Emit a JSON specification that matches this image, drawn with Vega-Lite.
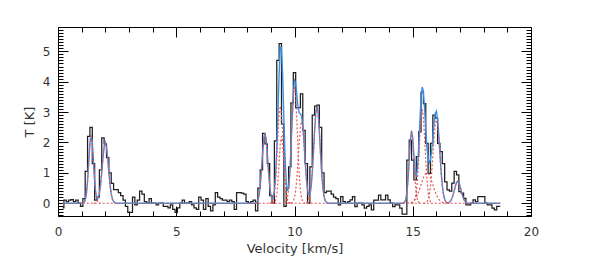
{
"$schema": "https://vega.github.io/schema/vega-lite/v6.json",
"width": 473, "height": 189,
"autosize": {"type": "none"},
"padding": {"left": 58, "top": 27, "right": 58, "bottom": 55},
"background": "white",
"config": {
  "view": {"stroke": null},
  "axis": {"grid": false, "domainColor": "#000", "domainWidth": 1, "tickColor": "#000", "tickWidth": 1,
    "labelFont": "DejaVu Sans", "labelFontSize": 12, "labelColor": "#333",
    "titleFont": "DejaVu Sans", "titleFontSize": 13, "titleFontWeight": "normal", "titleColor": "#333"}
},
"datasets": {
"hist": [
{"v":0.2,"t":-0.15},{"v":0.3,"t":0.1},{"v":0.4,"t":0.05},{"v":0.5,"t":0.1},{"v":0.6,"t":0.12},{"v":0.7,"t":0.05},{"v":0.8,"t":0.1},{"v":0.9,"t":0.0},{"v":1.0,"t":-0.1},{"v":1.1,"t":0.15},
{"v":1.2,"t":1.05},{"v":1.3,"t":2.2},{"v":1.4,"t":2.5},{"v":1.5,"t":1.3},{"v":1.6,"t":0.1},{"v":1.7,"t":0.2},{"v":1.8,"t":1.1},{"v":1.9,"t":2.15},{"v":2.0,"t":1.95},{"v":2.1,"t":1.5},
{"v":2.2,"t":1.0},{"v":2.3,"t":0.65},{"v":2.4,"t":0.45},{"v":2.5,"t":0.45},{"v":2.6,"t":0.35},{"v":2.7,"t":0.25},{"v":2.8,"t":0.1},{"v":2.9,"t":-0.1},{"v":3.0,"t":-0.3},{"v":3.1,"t":-0.3},
{"v":3.2,"t":0.2},{"v":3.3,"t":-0.05},{"v":3.4,"t":0.1},{"v":3.5,"t":0.4},{"v":3.6,"t":0.3},{"v":3.7,"t":0.05},{"v":3.8,"t":0.0},{"v":3.9,"t":0.15},{"v":4.0,"t":0.0},{"v":4.1,"t":0.0},
{"v":4.2,"t":-0.05},{"v":4.3,"t":0.0},{"v":4.4,"t":0.0},{"v":4.5,"t":-0.1},{"v":4.6,"t":-0.1},{"v":4.7,"t":-0.15},{"v":4.8,"t":-0.05},{"v":4.9,"t":-0.2},{"v":5.0,"t":-0.3},{"v":5.1,"t":-0.15},
{"v":5.2,"t":0.0},{"v":5.3,"t":0.1},{"v":5.4,"t":0.0},{"v":5.5,"t":0.0},{"v":5.6,"t":0.05},{"v":5.7,"t":-0.05},{"v":5.8,"t":-0.15},{"v":5.9,"t":-0.2},{"v":6.0,"t":0.2},{"v":6.1,"t":0.1},
{"v":6.2,"t":-0.2},{"v":6.3,"t":0.15},{"v":6.4,"t":-0.1},{"v":6.5,"t":-0.25},{"v":6.6,"t":-0.05},{"v":6.7,"t":0.35},{"v":6.8,"t":0.2},{"v":6.9,"t":0.15},{"v":7.0,"t":0.1},{"v":7.1,"t":0.1},
{"v":7.2,"t":0.05},{"v":7.3,"t":0.1},{"v":7.4,"t":0.05},{"v":7.5,"t":-0.2},{"v":7.6,"t":0.35},{"v":7.7,"t":0.35},{"v":7.8,"t":0.33},{"v":7.9,"t":0.3},{"v":8.0,"t":0.05},{"v":8.1,"t":0.0},
{"v":8.2,"t":0.05},{"v":8.3,"t":0.1},{"v":8.4,"t":-0.25},{"v":8.5,"t":0.5},{"v":8.6,"t":1.1},{"v":8.7,"t":2.3},{"v":8.8,"t":1.95},{"v":8.9,"t":1.3},{"v":9.0,"t":0.25},{"v":9.1,"t":0.0},
{"v":9.2,"t":2.05},{"v":9.3,"t":4.7},{"v":9.4,"t":5.25},{"v":9.5,"t":2.6},{"v":9.6,"t":-0.1},{"v":9.7,"t":0.5},{"v":9.8,"t":1.2},{"v":9.9,"t":3.3},{"v":10.0,"t":4.3},{"v":10.1,"t":3.15},
{"v":10.2,"t":3.15},{"v":10.3,"t":3.6},{"v":10.4,"t":2.4},{"v":10.5,"t":1.3},{"v":10.6,"t":0.0},{"v":10.7,"t":1.2},{"v":10.8,"t":2.9},{"v":10.9,"t":3.2},{"v":11.0,"t":3.23},{"v":11.1,"t":2.5},
{"v":11.2,"t":1.0},{"v":11.3,"t":0.35},{"v":11.4,"t":0.4},{"v":11.5,"t":0.4},{"v":11.6,"t":0.3},{"v":11.7,"t":0.2},{"v":11.8,"t":0.15},{"v":11.9,"t":-0.05},{"v":12.0,"t":0.22},{"v":12.1,"t":0.05},
{"v":12.2,"t":0.0},{"v":12.3,"t":0.05},{"v":12.4,"t":0.11},{"v":12.5,"t":0.22},{"v":12.6,"t":-0.11},{"v":12.7,"t":0.0},{"v":12.8,"t":0.0},{"v":12.9,"t":-0.05},{"v":13.0,"t":-0.16},{"v":13.1,"t":-0.1},
{"v":13.2,"t":-0.05},{"v":13.3,"t":-0.22},{"v":13.4,"t":0.1},{"v":13.5,"t":0.1},{"v":13.6,"t":0.27},{"v":13.7,"t":0.11},{"v":13.8,"t":0.11},{"v":13.9,"t":0.27},{"v":14.0,"t":0.11},{"v":14.1,"t":0.0},
{"v":14.2,"t":-0.11},{"v":14.3,"t":-0.05},{"v":14.4,"t":-0.05},{"v":14.5,"t":-0.16},{"v":14.6,"t":-0.36},{"v":14.7,"t":-0.36},{"v":14.8,"t":1.42},{"v":14.9,"t":2.08},{"v":15.0,"t":1.42},{"v":15.1,"t":0.77},
{"v":15.2,"t":1.53},{"v":15.3,"t":2.35},{"v":15.4,"t":3.66},{"v":15.5,"t":3.28},{"v":15.6,"t":1.97},{"v":15.7,"t":0.98},{"v":15.8,"t":1.97},{"v":15.9,"t":2.9},{"v":16.0,"t":2.8},{"v":16.1,"t":1.97},
{"v":16.2,"t":1.7},{"v":16.3,"t":1.3},{"v":16.4,"t":0.7},{"v":16.5,"t":0.44},{"v":16.6,"t":0.4},{"v":16.7,"t":0.66},{"v":16.8,"t":1.05},{"v":16.9,"t":0.93},{"v":17.0,"t":0.38},{"v":17.1,"t":0.33},
{"v":17.2,"t":0.16},{"v":17.3,"t":-0.05},{"v":17.4,"t":-0.05},{"v":17.5,"t":0.0},{"v":17.6,"t":0.11},{"v":17.7,"t":0.05},{"v":17.8,"t":0.22},{"v":17.9,"t":0.22},{"v":18.0,"t":0.22},{"v":18.1,"t":0.0},
{"v":18.2,"t":-0.05},{"v":18.3,"t":-0.05},{"v":18.4,"t":-0.16},{"v":18.5,"t":-0.22},{"v":18.6,"t":-0.1},{"v":18.7,"t":-0.1}
],
"fit": [
{"v":0.2,"t":0},{"v":1.0,"t":0},{"v":1.05,"t":0.005},{"v":1.1,"t":0.025},{"v":1.15,"t":0.099},{"v":1.2,"t":0.304},{"v":1.25,"t":0.731},{"v":1.3,"t":1.365},{"v":1.35,"t":1.986},{"v":1.4,"t":2.25},{"v":1.45,"t":1.986},{"v":1.5,"t":1.365},{"v":1.55,"t":0.736},{"v":1.6,"t":0.322},{"v":1.65,"t":0.153},{"v":1.7,"t":0.165},{"v":1.75,"t":0.319},{"v":1.8,"t":0.612},{"v":1.85,"t":1.028},{"v":1.9,"t":1.488},{"v":1.95,"t":1.858},{"v":2.0,"t":2.0},{"v":2.05,"t":1.858},{"v":2.1,"t":1.488},{"v":2.15,"t":1.028},{"v":2.2,"t":0.612},{"v":2.25,"t":0.314},{"v":2.3,"t":0.14},{"v":2.35,"t":0.054},{"v":2.4,"t":0.018},{"v":2.45,"t":0.005},{"v":2.5,"t":0},
{"v":8.25,"t":0},{"v":8.3,"t":0.002},{"v":8.35,"t":0.009},{"v":8.4,"t":0.033},{"v":8.45,"t":0.101},{"v":8.5,"t":0.263},{"v":8.55,"t":0.574},{"v":8.6,"t":1.053},{"v":8.65,"t":1.625},{"v":8.7,"t":2.109},{"v":8.75,"t":2.3},{"v":8.8,"t":2.109},{"v":8.85,"t":1.625},{"v":8.9,"t":1.053},{"v":8.95,"t":0.577},{"v":9.0,"t":0.275},{"v":9.05,"t":0.147},{"v":9.1,"t":0.178},{"v":9.15,"t":0.398},{"v":9.2,"t":0.897},{"v":9.25,"t":1.763},{"v":9.3,"t":2.975},{"v":9.35,"t":4.268},{"v":9.4,"t":5.142},{"v":9.45,"t":5.134},{"v":9.5,"t":4.203},{"v":9.55,"t":2.802},{"v":9.6,"t":1.527},{"v":9.65,"t":0.718},{"v":9.7,"t":0.406},{"v":9.75,"t":0.509},{"v":9.8,"t":0.977},{"v":9.85,"t":1.773},{"v":9.9,"t":2.744},{"v":9.95,"t":3.603},{"v":10.0,"t":4.039},{"v":10.05,"t":3.954},{"v":10.1,"t":3.546},{"v":10.15,"t":3.151},{"v":10.2,"t":2.969},{"v":10.25,"t":2.948},{"v":10.3,"t":2.869},{"v":10.35,"t":2.563},{"v":10.4,"t":2.024},{"v":10.45,"t":1.391},{"v":10.5,"t":0.834},{"v":10.55,"t":0.452},{"v":10.6,"t":0.275},{"v":10.65,"t":0.297},{"v":10.7,"t":0.526},{"v":10.75,"t":0.986},{"v":10.8,"t":1.645},{"v":10.85,"t":2.381},{"v":10.9,"t":2.973},{"v":10.95,"t":3.2},{"v":11.0,"t":2.973},{"v":11.05,"t":2.381},{"v":11.1,"t":1.645},{"v":11.15,"t":0.979},{"v":11.2,"t":0.502},{"v":11.25,"t":0.224},{"v":11.3,"t":0.086},{"v":11.35,"t":0.028},{"v":11.4,"t":0.008},{"v":11.45,"t":0},
{"v":14.5,"t":0},{"v":14.55,"t":0},{"v":14.6,"t":0.005},{"v":14.65,"t":0.026},{"v":14.7,"t":0.103},{"v":14.75,"t":0.321},{"v":14.8,"t":0.769},{"v":14.85,"t":1.436},{"v":14.9,"t":2.094},{"v":14.95,"t":2.387},{"v":15.0,"t":2.142},{"v":15.05,"t":1.558},{"v":15.1,"t":1.034},{"v":15.15,"t":0.87},{"v":15.2,"t":1.154},{"v":15.25,"t":1.82},{"v":15.3,"t":2.682},{"v":15.35,"t":3.45},{"v":15.4,"t":3.826},{"v":15.45,"t":3.678},{"v":15.5,"t":3.118},{"v":15.55,"t":2.415},{"v":15.6,"t":1.82},{"v":15.65,"t":1.455},{"v":15.7,"t":1.337},{"v":15.75,"t":1.437},{"v":15.8,"t":1.728},{"v":15.85,"t":2.158},{"v":15.9,"t":2.618},{"v":15.95,"t":2.955},{"v":16.0,"t":3.028},{"v":16.05,"t":2.778},{"v":16.1,"t":2.266},{"v":16.15,"t":1.637},{"v":16.2,"t":1.046},{"v":16.25,"t":0.592},{"v":16.3,"t":0.298},{"v":16.35,"t":0.132},{"v":16.4,"t":0.053},{"v":16.45,"t":0.023},{"v":16.5,"t":0.017},{"v":16.55,"t":0.032},{"v":16.6,"t":0.073},{"v":16.65,"t":0.146},{"v":16.7,"t":0.259},{"v":16.75,"t":0.405},{"v":16.8,"t":0.558},{"v":16.85,"t":0.675},{"v":16.9,"t":0.72},{"v":16.95,"t":0.675},{"v":17.0,"t":0.558},{"v":17.05,"t":0.405},{"v":17.1,"t":0.259},{"v":17.15,"t":0.146},{"v":17.2,"t":0.073},{"v":17.25,"t":0.032},{"v":17.3,"t":0.012},{"v":17.35,"t":0.004},{"v":17.4,"t":0},{"v":18.7,"t":0}
],
"comp": [
{"c":"base","v":0.2,"t":0},{"c":"base","v":18.7,"t":0},
{"c":"c1","v":1.0,"t":0},{"c":"c1","v":1.05,"t":0.005},{"c":"c1","v":1.1,"t":0.025},{"c":"c1","v":1.15,"t":0.099},{"c":"c1","v":1.2,"t":0.304},{"c":"c1","v":1.25,"t":0.731},{"c":"c1","v":1.3,"t":1.365},{"c":"c1","v":1.35,"t":1.986},{"c":"c1","v":1.4,"t":2.25},{"c":"c1","v":1.45,"t":1.986},{"c":"c1","v":1.5,"t":1.365},{"c":"c1","v":1.55,"t":0.731},{"c":"c1","v":1.6,"t":0.304},{"c":"c1","v":1.65,"t":0.099},{"c":"c1","v":1.7,"t":0.025},{"c":"c1","v":1.75,"t":0.005},{"c":"c1","v":1.8,"t":0},
{"c":"c2","v":1.5,"t":0},{"c":"c2","v":1.55,"t":0.005},{"c":"c2","v":1.6,"t":0.018},{"c":"c2","v":1.65,"t":0.054},{"c":"c2","v":1.7,"t":0.14},{"c":"c2","v":1.75,"t":0.314},{"c":"c2","v":1.8,"t":0.612},{"c":"c2","v":1.85,"t":1.028},{"c":"c2","v":1.9,"t":1.488},{"c":"c2","v":1.95,"t":1.858},{"c":"c2","v":2.0,"t":2.0},{"c":"c2","v":2.05,"t":1.858},{"c":"c2","v":2.1,"t":1.488},{"c":"c2","v":2.15,"t":1.028},{"c":"c2","v":2.2,"t":0.612},{"c":"c2","v":2.25,"t":0.314},{"c":"c2","v":2.3,"t":0.14},{"c":"c2","v":2.35,"t":0.054},{"c":"c2","v":2.4,"t":0.018},{"c":"c2","v":2.45,"t":0.005},{"c":"c2","v":2.5,"t":0},
{"c":"c3","v":8.3,"t":0},{"c":"c3","v":8.35,"t":0.009},{"c":"c3","v":8.4,"t":0.033},{"c":"c3","v":8.45,"t":0.101},{"c":"c3","v":8.5,"t":0.263},{"c":"c3","v":8.55,"t":0.574},{"c":"c3","v":8.6,"t":1.053},{"c":"c3","v":8.65,"t":1.625},{"c":"c3","v":8.7,"t":2.109},{"c":"c3","v":8.75,"t":2.3},{"c":"c3","v":8.8,"t":2.109},{"c":"c3","v":8.85,"t":1.625},{"c":"c3","v":8.9,"t":1.053},{"c":"c3","v":8.95,"t":0.574},{"c":"c3","v":9.0,"t":0.263},{"c":"c3","v":9.05,"t":0.101},{"c":"c3","v":9.1,"t":0.033},{"c":"c3","v":9.15,"t":0.009},{"c":"c3","v":9.2,"t":0},
{"c":"c4a","v":8.95,"t":0},{"c":"c4a","v":9.0,"t":0.012},{"c":"c4a","v":9.05,"t":0.045},{"c":"c4a","v":9.1,"t":0.14},{"c":"c4a","v":9.15,"t":0.365},{"c":"c4a","v":9.2,"t":0.798},{"c":"c4a","v":9.25,"t":1.465},{"c":"c4a","v":9.3,"t":2.261},{"c":"c4a","v":9.35,"t":2.934},{"c":"c4a","v":9.4,"t":3.2},{"c":"c4a","v":9.45,"t":2.934},{"c":"c4a","v":9.5,"t":2.261},{"c":"c4a","v":9.55,"t":1.465},{"c":"c4a","v":9.6,"t":0.798},{"c":"c4a","v":9.65,"t":0.365},{"c":"c4a","v":9.7,"t":0.14},{"c":"c4a","v":9.75,"t":0.045},{"c":"c4a","v":9.8,"t":0.012},{"c":"c4a","v":9.85,"t":0},
{"c":"c4b","v":9.05,"t":0},{"c":"c4b","v":9.1,"t":0.005},{"c":"c4b","v":9.15,"t":0.024},{"c":"c4b","v":9.2,"t":0.097},{"c":"c4b","v":9.25,"t":0.298},{"c":"c4b","v":9.3,"t":0.714},{"c":"c4b","v":9.35,"t":1.334},{"c":"c4b","v":9.4,"t":1.942},{"c":"c4b","v":9.45,"t":2.2},{"c":"c4b","v":9.5,"t":1.942},{"c":"c4b","v":9.55,"t":1.334},{"c":"c4b","v":9.6,"t":0.714},{"c":"c4b","v":9.65,"t":0.298},{"c":"c4b","v":9.7,"t":0.097},{"c":"c4b","v":9.75,"t":0.024},{"c":"c4b","v":9.8,"t":0.005},{"c":"c4b","v":9.85,"t":0},
{"c":"c5","v":9.55,"t":0},{"c":"c5","v":9.6,"t":0.015},{"c":"c5","v":9.65,"t":0.055},{"c":"c5","v":9.7,"t":0.169},{"c":"c5","v":9.75,"t":0.44},{"c":"c5","v":9.8,"t":0.96},{"c":"c5","v":9.85,"t":1.763},{"c":"c5","v":9.9,"t":2.72},{"c":"c5","v":9.95,"t":3.53},{"c":"c5","v":10.0,"t":3.85},{"c":"c5","v":10.05,"t":3.53},{"c":"c5","v":10.1,"t":2.72},{"c":"c5","v":10.15,"t":1.763},{"c":"c5","v":10.2,"t":0.96},{"c":"c5","v":10.25,"t":0.44},{"c":"c5","v":10.3,"t":0.169},{"c":"c5","v":10.35,"t":0.055},{"c":"c5","v":10.4,"t":0.015},{"c":"c5","v":10.45,"t":0},
{"c":"c6","v":9.85,"t":0},{"c":"c6","v":9.9,"t":0.024},{"c":"c6","v":9.95,"t":0.073},{"c":"c6","v":10.0,"t":0.189},{"c":"c6","v":10.05,"t":0.424},{"c":"c6","v":10.1,"t":0.826},{"c":"c6","v":10.15,"t":1.388},{"c":"c6","v":10.2,"t":2.009},{"c":"c6","v":10.25,"t":2.508},{"c":"c6","v":10.3,"t":2.7},{"c":"c6","v":10.35,"t":2.508},{"c":"c6","v":10.4,"t":2.009},{"c":"c6","v":10.45,"t":1.388},{"c":"c6","v":10.5,"t":0.826},{"c":"c6","v":10.55,"t":0.424},{"c":"c6","v":10.6,"t":0.189},{"c":"c6","v":10.65,"t":0.073},{"c":"c6","v":10.7,"t":0.024},{"c":"c6","v":10.75,"t":0},
{"c":"c7","v":10.5,"t":0},{"c":"c7","v":10.55,"t":0.028},{"c":"c7","v":10.6,"t":0.086},{"c":"c7","v":10.65,"t":0.224},{"c":"c7","v":10.7,"t":0.502},{"c":"c7","v":10.75,"t":0.979},{"c":"c7","v":10.8,"t":1.645},{"c":"c7","v":10.85,"t":2.381},{"c":"c7","v":10.9,"t":2.973},{"c":"c7","v":10.95,"t":3.2},{"c":"c7","v":11.0,"t":2.973},{"c":"c7","v":11.05,"t":2.381},{"c":"c7","v":11.1,"t":1.645},{"c":"c7","v":11.15,"t":0.979},{"c":"c7","v":11.2,"t":0.502},{"c":"c7","v":11.25,"t":0.224},{"c":"c7","v":11.3,"t":0.086},{"c":"c7","v":11.35,"t":0.028},{"c":"c7","v":11.4,"t":0},
{"c":"c8","v":14.55,"t":0},{"c":"c8","v":14.6,"t":0.005},{"c":"c8","v":14.65,"t":0.026},{"c":"c8","v":14.7,"t":0.103},{"c":"c8","v":14.75,"t":0.318},{"c":"c8","v":14.8,"t":0.763},{"c":"c8","v":14.85,"t":1.425},{"c":"c8","v":14.9,"t":2.074},{"c":"c8","v":14.95,"t":2.35},{"c":"c8","v":15.0,"t":2.074},{"c":"c8","v":15.05,"t":1.425},{"c":"c8","v":15.1,"t":0.763},{"c":"c8","v":15.15,"t":0.318},{"c":"c8","v":15.2,"t":0.103},{"c":"c8","v":15.25,"t":0.026},{"c":"c8","v":15.3,"t":0.005},{"c":"c8","v":15.35,"t":0},
{"c":"c9","v":14.95,"t":0},{"c":"c9","v":15.0,"t":0.012},{"c":"c9","v":15.05,"t":0.044},{"c":"c9","v":15.1,"t":0.136},{"c":"c9","v":15.15,"t":0.354},{"c":"c9","v":15.2,"t":0.773},{"c":"c9","v":15.25,"t":1.419},{"c":"c9","v":15.3,"t":2.19},{"c":"c9","v":15.35,"t":2.843},{"c":"c9","v":15.4,"t":3.1},{"c":"c9","v":15.45,"t":2.843},{"c":"c9","v":15.5,"t":2.19},{"c":"c9","v":15.55,"t":1.419},{"c":"c9","v":15.6,"t":0.773},{"c":"c9","v":15.65,"t":0.354},{"c":"c9","v":15.7,"t":0.136},{"c":"c9","v":15.75,"t":0.044},{"c":"c9","v":15.8,"t":0.012},{"c":"c9","v":15.85,"t":0},
{"c":"cb","v":14.75,"t":0},{"c":"cb","v":14.8,"t":0.006},{"c":"cb","v":14.85,"t":0.011},{"c":"cb","v":14.9,"t":0.02},{"c":"cb","v":14.95,"t":0.034},{"c":"cb","v":15.0,"t":0.056},{"c":"cb","v":15.05,"t":0.089},{"c":"cb","v":15.1,"t":0.135},{"c":"cb","v":15.15,"t":0.198},{"c":"cb","v":15.2,"t":0.278},{"c":"cb","v":15.25,"t":0.375},{"c":"cb","v":15.3,"t":0.487},{"c":"cb","v":15.35,"t":0.607},{"c":"cb","v":15.4,"t":0.726},{"c":"cb","v":15.45,"t":0.835},{"c":"cb","v":15.5,"t":0.923},{"c":"cb","v":15.55,"t":0.98},{"c":"cb","v":15.6,"t":1.0},{"c":"cb","v":15.65,"t":0.98},{"c":"cb","v":15.7,"t":0.923},{"c":"cb","v":15.75,"t":0.835},{"c":"cb","v":15.8,"t":0.726},{"c":"cb","v":15.85,"t":0.607},{"c":"cb","v":15.9,"t":0.487},{"c":"cb","v":15.95,"t":0.375},{"c":"cb","v":16.0,"t":0.278},{"c":"cb","v":16.05,"t":0.198},{"c":"cb","v":16.1,"t":0.135},{"c":"cb","v":16.15,"t":0.089},{"c":"cb","v":16.2,"t":0.056},{"c":"cb","v":16.25,"t":0.034},{"c":"cb","v":16.3,"t":0.02},{"c":"cb","v":16.35,"t":0.011},{"c":"cb","v":16.4,"t":0.006},{"c":"cb","v":16.45,"t":0},
{"c":"c10","v":15.45,"t":0},{"c":"c10","v":15.5,"t":0.005},{"c":"c10","v":15.55,"t":0.016},{"c":"c10","v":15.6,"t":0.047},{"c":"c10","v":15.65,"t":0.121},{"c":"c10","v":15.7,"t":0.278},{"c":"c10","v":15.75,"t":0.558},{"c":"c10","v":15.8,"t":0.99},{"c":"c10","v":15.85,"t":1.548},{"c":"c10","v":15.9,"t":2.131},{"c":"c10","v":15.95,"t":2.58},{"c":"c10","v":16.0,"t":2.75},{"c":"c10","v":16.05,"t":2.58},{"c":"c10","v":16.1,"t":2.131},{"c":"c10","v":16.15,"t":1.548},{"c":"c10","v":16.2,"t":0.99},{"c":"c10","v":16.25,"t":0.558},{"c":"c10","v":16.3,"t":0.278},{"c":"c10","v":16.35,"t":0.121},{"c":"c10","v":16.4,"t":0.047},{"c":"c10","v":16.45,"t":0.016},{"c":"c10","v":16.5,"t":0.005},{"c":"c10","v":16.55,"t":0},
{"c":"c11","v":16.45,"t":0},{"c":"c11","v":16.5,"t":0.012},{"c":"c11","v":16.55,"t":0.032},{"c":"c11","v":16.6,"t":0.073},{"c":"c11","v":16.65,"t":0.146},{"c":"c11","v":16.7,"t":0.259},{"c":"c11","v":16.75,"t":0.405},{"c":"c11","v":16.8,"t":0.558},{"c":"c11","v":16.85,"t":0.675},{"c":"c11","v":16.9,"t":0.72},{"c":"c11","v":16.95,"t":0.675},{"c":"c11","v":17.0,"t":0.558},{"c":"c11","v":17.05,"t":0.405},{"c":"c11","v":17.1,"t":0.259},{"c":"c11","v":17.15,"t":0.146},{"c":"c11","v":17.2,"t":0.073},{"c":"c11","v":17.25,"t":0.032},{"c":"c11","v":17.3,"t":0.012},{"c":"c11","v":17.35,"t":0}
]
},
"layer": [
{
 "data": {"name": "hist"},
 "mark": {"type": "line", "interpolate": "step", "color": "#1e1e1e", "strokeWidth": 1.25},
 "encoding": {
  "x": {"field": "v", "type": "quantitative", "scale": {"domain": [0, 20], "nice": false, "zero": false},
   "axis": {"orient": "bottom", "values": [0,1,2,3,4,5,6,7,8,9,10,11,12,13,14,15,16,17,18,19,20],
    "tickSize": {"condition": {"test": "datum.value % 5 === 0", "value": -10}, "value": -5},
    "labelExpr": "datum.value % 5 === 0 ? datum.label : ''", "labelFlush": false, "labelOverlap": false,
    "labelPadding": 20, "title": "Velocity [km/s]", "titlePadding": 0}},
  "y": {"field": "t", "type": "quantitative", "scale": {"domain": [-0.42, 5.8], "nice": false, "zero": false},
   "axis": {"orient": "left", "values": [-0.4,-0.3,-0.2,-0.1,0,0.1,0.2,0.3,0.4,0.5,0.6,0.7,0.8,0.9,1,1.1,1.2,1.3,1.4,1.5,1.6,1.7,1.8,1.9,2,2.1,2.2,2.3,2.4,2.5,2.6,2.7,2.8,2.9,3,3.1,3.2,3.3,3.4,3.5,3.6,3.7,3.8,3.9,4,4.1,4.2,4.3,4.4,4.5,4.6,4.7,4.8,4.9,5,5.1,5.2,5.3,5.4,5.5,5.6,5.7],
    "tickSize": {"condition": {"test": "abs(datum.value - round(datum.value)) < 0.001", "value": -10}, "value": -5},
    "labelExpr": "abs(datum.value - round(datum.value)) < 0.001 ? format(round(datum.value), 'd') : ''", "labelOverlap": false,
    "labelPadding": 18, "title": "T [K]", "titlePadding": 6}}
 }
},
{
 "data": {"name": "fit"},
 "mark": {"type": "line", "color": "#3b8ee6", "strokeWidth": 1.4},
 "encoding": {
  "x": {"field": "v", "type": "quantitative", "scale": {"domain": [0, 20], "nice": false, "zero": false},
   "axis": {"orient": "top", "values": [0,1,2,3,4,5,6,7,8,9,10,11,12,13,14,15,16,17,18,19,20],
    "tickSize": {"condition": {"test": "datum.value % 5 === 0", "value": -10}, "value": -5},
    "labels": false, "title": null}},
  "y": {"field": "t", "type": "quantitative", "scale": {"domain": [-0.42, 5.8], "nice": false, "zero": false},
   "axis": {"orient": "right", "values": [-0.4,-0.3,-0.2,-0.1,0,0.1,0.2,0.3,0.4,0.5,0.6,0.7,0.8,0.9,1,1.1,1.2,1.3,1.4,1.5,1.6,1.7,1.8,1.9,2,2.1,2.2,2.3,2.4,2.5,2.6,2.7,2.8,2.9,3,3.1,3.2,3.3,3.4,3.5,3.6,3.7,3.8,3.9,4,4.1,4.2,4.3,4.4,4.5,4.6,4.7,4.8,4.9,5,5.1,5.2,5.3,5.4,5.5,5.6,5.7],
    "tickSize": {"condition": {"test": "abs(datum.value - round(datum.value)) < 0.001", "value": -10}, "value": -5},
    "labels": false, "title": null}}
 }
},
{
 "data": {"name": "comp"},
 "mark": {"type": "line", "color": "#e05a5a", "strokeWidth": 1.2, "strokeDash": [2, 2]},
 "encoding": {
  "x": {"field": "v", "type": "quantitative", "scale": {"domain": [0, 20], "nice": false, "zero": false}, "axis": null},
  "y": {"field": "t", "type": "quantitative", "scale": {"domain": [-0.42, 5.8], "nice": false, "zero": false}, "axis": null},
  "detail": {"field": "c", "type": "nominal"}
 }
}
],
"resolve": {"axis": {"x": "independent", "y": "independent"}}
}
